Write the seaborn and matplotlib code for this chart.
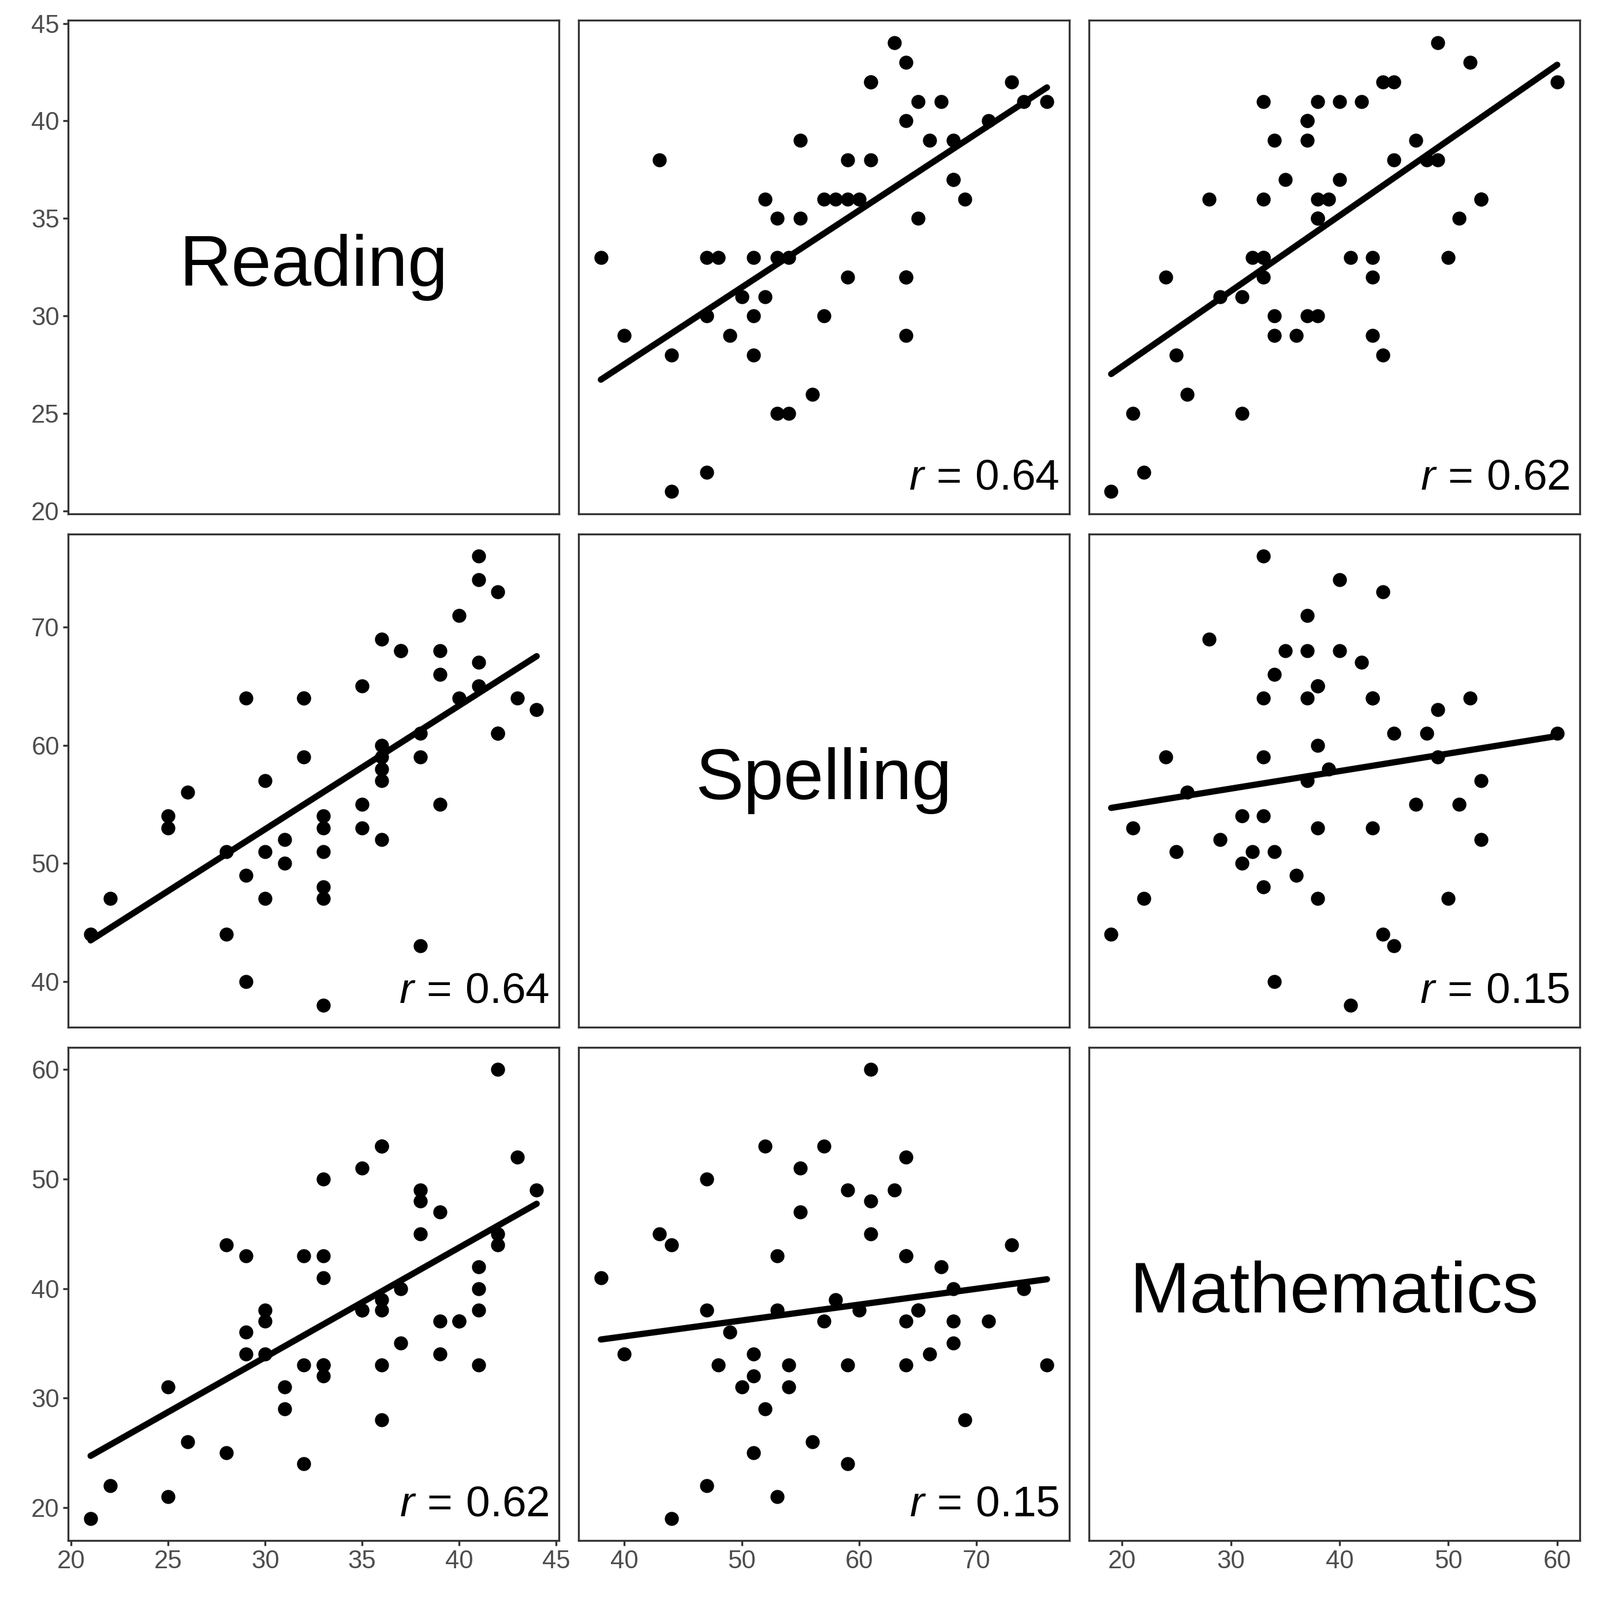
import seaborn as sns
import pandas as pd
import numpy as np
import matplotlib.pyplot as plt

# test scores, one entry per pupil
reading = [21, 22, 25, 25, 26, 28, 28, 29, 29, 29, 30, 30, 30, 31, 31, 32, 32, 32,
           33, 33, 33, 33, 33, 33, 35, 35, 35, 36, 36, 36, 36, 36, 36, 37, 37,
           38, 38, 38, 39, 39, 39, 40, 40, 41, 41, 41, 41, 42, 42, 42, 43, 44]
spelling = [44, 47, 54, 53, 56, 44, 51, 64, 49, 40, 57, 51, 47, 50, 52, 64, 64, 59,
            38, 47, 48, 51, 53, 54, 55, 65, 53, 69, 60, 59, 58, 57, 52, 68, 68,
            43, 61, 59, 55, 66, 68, 71, 64, 76, 74, 67, 65, 73, 61, 61, 64, 63]
mathematics = [19, 22, 31, 21, 26, 44, 25, 43, 36, 34, 37, 34, 38, 31, 29, 43, 33, 24,
               41, 50, 33, 32, 43, 33, 51, 38, 38, 28, 38, 33, 39, 53, 53, 40, 35,
               45, 48, 49, 47, 34, 37, 37, 37, 33, 40, 42, 38, 44, 60, 45, 52, 49]

names = ['Reading', 'Spelling', 'Mathematics']
tick_values = {'Reading': [20, 25, 30, 35, 40, 45],
               'Spelling': [40, 50, 60, 70],
               'Mathematics': [20, 30, 40, 50, 60]}

df = pd.DataFrame({'Reading': reading, 'Spelling': spelling, 'Mathematics': mathematics})

sns.set_theme(style="ticks")
plt.rcParams['font.family'] = ['Liberation Sans', 'DejaVu Sans']
plt.rcParams['mathtext.fontset'] = 'custom'
plt.rcParams['mathtext.rm'] = 'Liberation Sans'
plt.rcParams['mathtext.it'] = 'Liberation Sans:italic'

fig, axes = plt.subplots(3, 3, sharex='col', sharey='row', figsize=(2771 / 300, 2771 / 300), dpi=300)
fig.subplots_adjust(left=0.0427, right=0.9872, bottom=0.037, top=0.9872, wspace=0.04, hspace=0.04)

for i, yname in enumerate(names):
    for j, xname in enumerate(names):
        ax = axes[i, j]
        if i == j:
            ax.text(0.5, 0.5, xname, transform=ax.transAxes, ha='center', va='center',
                    fontsize=30, color='black')
        else:
            sns.regplot(x=xname, y=yname, data=df, ax=ax, ci=None,
                        scatter_kws={'s': 34, 'color': 'black', 'linewidths': 0, 'alpha': 1},
                        line_kws={'color': 'black', 'lw': 2.6})
            r = np.corrcoef(df[xname], df[yname])[0, 1]
            ax.text(0.98, 0.05, r'$r\,=\,\mathrm{%.2f}$' % r, transform=ax.transAxes,
                    ha='right', va='baseline', fontsize=18, color='black')
        ax.set_xlabel('')
        ax.set_ylabel('')
        for side in ax.spines.values():
            side.set_visible(True)
            side.set_color('#333333')
            side.set_linewidth(0.8)

# axis limits with 5% padding, ticks only on the outer edges
for k, name in enumerate(names):
    lo, hi = df[name].min(), df[name].max()
    pad = (hi - lo) * 0.05
    axes[2, k].set_xlim(lo - pad, hi + pad)
    axes[2, k].set_xticks(tick_values[name])
    axes[k, 0].set_ylim(lo - pad, hi + pad)
    axes[k, 0].set_yticks(tick_values[name])

for i in range(3):
    for j in range(3):
        ax = axes[i, j]
        ax.tick_params(axis='both', colors='#333333', labelcolor='#4D4D4D',
                       labelsize=10.5, length=2.2, width=0.8, pad=1.5)
        if j != 0:
            ax.tick_params(axis='y', length=0, labelleft=False)
        if i != 2:
            ax.tick_params(axis='x', length=0, labelbottom=False)

plt.savefig('out.png', dpi=300)
